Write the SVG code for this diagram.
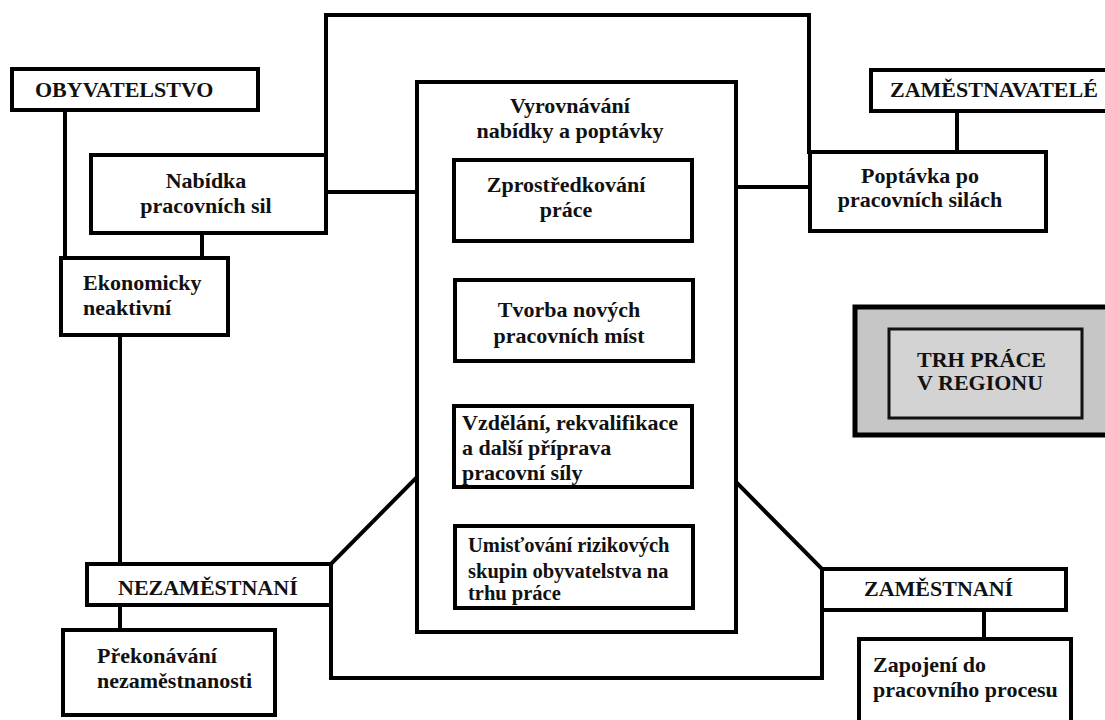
<svg xmlns="http://www.w3.org/2000/svg" width="1105" height="720" viewBox="0 0 1105 720">
<style>
.box{fill:#fff;stroke:#000;stroke-width:4}
.c{fill:none;stroke:#000;stroke-width:4;stroke-linecap:square}
text{font-family:"Liberation Serif","Times New Roman",serif;font-weight:bold;font-size:22px;fill:#111}
.m{text-anchor:middle}
.s{font-size:20.5px}
</style>
<rect width="1105" height="720" fill="#fff"/>
<g id="connectors">
<path class="c" d="M65,110 V258"/>
<path class="c" d="M202,233 V258"/>
<path class="c" d="M326,155 V15 H809 V152"/>
<path class="c" d="M326,192 H417"/>
<path class="c" d="M736,187 H810"/>
<path class="c" d="M957,111 V152"/>
<path class="c" d="M120,335 V564"/>
<path class="c" d="M120,605 V630"/>
<path class="c" d="M331,564 L417,477"/>
<path class="c" d="M331,605 V678 H822 V610"/>
<path class="c" d="M736,482 L822,569"/>
<path class="c" d="M984,610 V639"/>
<path class="c" d="M567,241 V280"/>
<path class="c" d="M567,361 V406"/>
<path class="c" d="M567,487 V526"/>
</g>
<g id="vyrovnavani">
<rect class="box" x="417" y="82" width="319" height="550"/>
<text class="m" x="570" y="113">Vyrovnávání</text>
<text class="m" x="570" y="138">nabídky a poptávky</text>
</g>
<g id="obyvatelstvo">
<rect class="box" x="12" y="69" width="246" height="41"/>
<text x="35" y="97">OBYVATELSTVO</text>
</g>
<g id="nabidka">
<rect class="box" x="91" y="155" width="235" height="78"/>
<text class="m" x="206" y="188">Nabídka</text>
<text class="m" x="206" y="213">pracovních sil</text>
</g>
<g id="ekonomicky">
<rect class="box" x="61" y="258" width="167" height="77"/>
<text x="83" y="290">Ekonomicky</text>
<text x="83" y="315">neaktivní</text>
</g>
<g id="nezamestnani">
<rect class="box" x="87" y="564" width="244" height="41"/>
<text x="118" y="595">NEZAMĚSTNANÍ</text>
</g>
<g id="prekonavani">
<rect class="box" x="63" y="630" width="212" height="85"/>
<text x="97" y="663">Překonávání</text>
<text x="97" y="688">nezaměstnanosti</text>
</g>
<g id="zprostredkovani">
<rect class="box" x="454" y="160" width="238" height="81"/>
<text class="m" x="566" y="192">Zprostředkování</text>
<text class="m" x="566" y="217">práce</text>
</g>
<g id="tvorba">
<rect class="box" x="455" y="280" width="238" height="81"/>
<text class="m" x="569" y="317">Tvorba nových</text>
<text class="m" x="569" y="343">pracovních míst</text>
</g>
<g id="vzdelani">
<rect class="box" x="454" y="406" width="238" height="81"/>
<text x="462" y="430">Vzdělání, rekvalifikace</text>
<text x="462" y="455">a další příprava</text>
<text x="462" y="480">pracovní síly</text>
</g>
<g id="umistovani">
<rect class="box" x="455" y="526" width="238" height="82"/>
<text class="s" x="468" y="552">Umisťování rizikových</text>
<text class="s" x="468" y="578">skupin obyvatelstva na</text>
<text class="s" x="468" y="600">trhu práce</text>
</g>
<g id="zamestnavatele">
<rect class="box" x="871" y="70" width="260" height="41"/>
<text x="890" y="97">ZAMĚSTNAVATELÉ</text>
</g>
<g id="poptavka">
<rect class="box" x="810" y="152" width="236" height="79"/>
<text class="m" x="920" y="183">Poptávka po</text>
<text class="m" x="920" y="207">pracovních silách</text>
</g>
<g id="trh-prace">
<rect x="855" y="307" width="262" height="128" fill="#c6c6c6" stroke="#000" stroke-width="5"/>
<rect x="889" y="329" width="193" height="89" fill="#d3d3d3" stroke="#111" stroke-width="3"/>
<text x="917" y="367">TRH PRÁCE</text>
<text x="917" y="390">V REGIONU</text>
</g>
<g id="zamestnani">
<rect class="box" x="822" y="569" width="244" height="41"/>
<text x="864" y="596">ZAMĚSTNANÍ</text>
</g>
<g id="zapojeni">
<rect class="box" x="859" y="639" width="212" height="100"/>
<text x="873" y="672">Zapojení do</text>
<text x="873" y="697">pracovního procesu</text>
</g>
</svg>
